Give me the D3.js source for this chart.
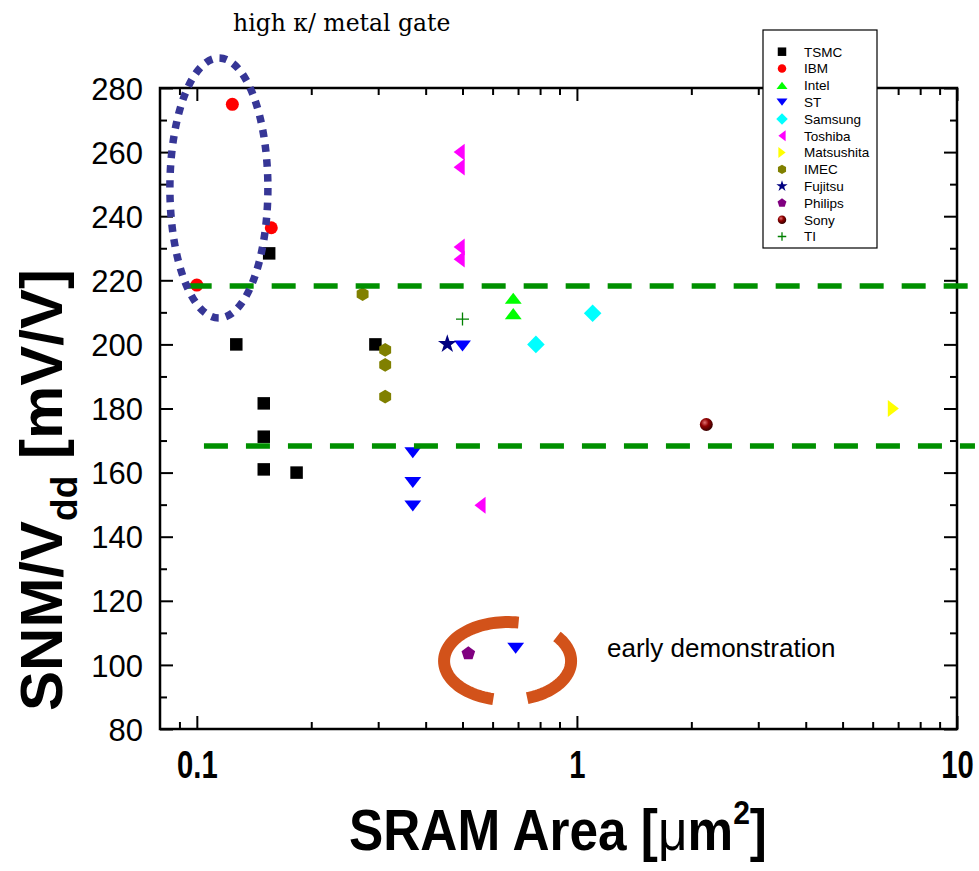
<!DOCTYPE html>
<html>
<head>
<meta charset="utf-8">
<script src="https://cdn.jsdelivr.net/npm/d3@7"></script>
<style>
  body { margin: 0; background: #fff; }
  svg { display: block; font-family: "Liberation Sans", Arial, sans-serif; }
</style>
</head>
<body>
<div id="chart"></div>
<script>
'use strict';

// SRAM cell area [um^2] vs SNM/Vdd [mV/V], one array per company: [area, snm]
const companies = ['TSMC', 'IBM', 'Intel', 'ST', 'Samsung', 'Toshiba', 'Matsushita', 'IMEC', 'Fujitsu', 'Philips', 'Sony', 'TI'];
const tsmc = [[0.155, 228.4], [0.127, 200], [0.15, 181.6], [0.15, 171.2], [0.15, 161], [0.183, 160], [0.295, 200]];
const ibm = [[0.124, 274.9], [0.157, 236.4], [0.1, 218.5]];
const intel = [[0.68, 214.4], [0.68, 209.6]];
const st = [[0.5, 199.5], [0.37, 166.2], [0.37, 156.9], [0.37, 149.6], [0.69, 105.2]];
const samsung = [[1.1, 209.7], [0.78, 200]];
const toshiba = [[0.49, 260], [0.49, 255.3], [0.49, 230.4], [0.49, 226.6], [0.556, 149.8]];
const matsushita = [[6.8, 180]];
const imec = [[0.273, 215.7], [0.313, 198.3], [0.313, 193.6], [0.313, 183.7]];
const fujitsu = [[0.456, 200.1]];
const philips = [[0.518, 103.6]];
const sony = [[2.19, 175]];
const ti = [[0.5, 207.9]];
const seriesValues = [tsmc, ibm, intel, st, samsung, toshiba, matsushita, imec, fujitsu, philips, sony, ti];

// reference levels (green dashed lines) and their drawn extent
const refLevels = [218.2, 168.3];
const refStarts = [0.0946, 0.1044];
const refEnd = 11.15;

const xMajorTicks = [0.1, 1, 10];
const xMinorTicks = [0.09, 0.2, 0.3, 0.4, 0.5, 0.6, 0.7, 0.8, 0.9, 2, 3, 4, 5, 6, 7, 8, 9];
const yMajorTicks = d3.range(80, 281, 20);
const yMinorTicks = d3.range(90, 280, 20);

const colors = ['#000000', '#ff0000', '#00ff00', '#0000ff', '#00ffff', '#ff00ff', '#ffff00', '#808000', '#000080', '#800080', '#800000', '#008000'];
const shapes = ['square', 'circle', 'up', 'down', 'diamond', 'left', 'right', 'hexagon', 'star', 'pentagon', 'sphere', 'plus'];

const width = 979, height = 871;
const xScale = d3.scaleLog().domain([0.08, 10]).range([160, 957]);
const yScale = d3.scaleLinear().domain([80, 280]).range([729, 88]);

const svg = d3.select('#chart').append('svg')
  .attr('width', width)
  .attr('height', height);

const defs = svg.append('defs');
const grad = defs.append('radialGradient').attr('id', 'sonyBall')
  .attr('cx', '0.38').attr('cy', '0.35').attr('r', '0.65');
grad.append('stop').attr('offset', '0').attr('stop-color', '#e07070');
grad.append('stop').attr('offset', '0.45').attr('stop-color', '#900000');
grad.append('stop').attr('offset', '1').attr('stop-color', '#3a0000');

function polygon(n, r, rot) {
  const pts = d3.range(n).map(i => {
    const a = rot + i * 2 * Math.PI / n;
    return [r * Math.cos(a), r * Math.sin(a)];
  });
  return 'M' + pts.join('L') + 'Z';
}

function shapePath(type, s) {
  // s = nominal marker width in px
  const h = s / 2;
  switch (type) {
    case 'square': return `M${-h},${-h}H${h}V${h}H${-h}Z`;
    case 'circle':
    case 'sphere': return d3.symbol(d3.symbolCircle, Math.PI * h * h)();
    case 'up': return `M0,${-h * 0.85}L${h * 1.3},${h * 0.85}L${-h * 1.3},${h * 0.85}Z`;
    case 'down': return `M0,${h * 0.85}L${h * 1.3},${-h * 0.85}L${-h * 1.3},${-h * 0.85}Z`;
    case 'left': return `M${-h * 0.85},0L${h * 0.85},${-h * 1.3}L${h * 0.85},${h * 1.3}Z`;
    case 'right': return `M${h * 0.85},0L${-h * 0.85},${-h * 1.3}L${-h * 0.85},${h * 1.3}Z`;
    case 'diamond': return `M0,${-h * 1.35}L${h * 1.35},0L0,${h * 1.35}L${-h * 1.35},0Z`;
    case 'hexagon': return polygon(6, h * 1.1, -Math.PI / 2);
    case 'pentagon': return polygon(5, h * 1.1, -Math.PI / 2);
    case 'star': return d3.symbol(d3.symbolStar, h * h * 2.2)();
    case 'plus': return `M${-h},0H${h}M0,${-h}V${h}`;
  }
}

function drawMarker(g, type, color, s) {
  const p = g.append('path').attr('d', shapePath(type, s));
  if (type === 'plus') {
    p.attr('fill', 'none').attr('stroke', color).attr('stroke-width', 1.3);
  } else if (type === 'sphere') {
    p.attr('fill', 'url(#sonyBall)');
  } else {
    p.attr('fill', color);
  }
  return p;
}

// axes frame and ticks
const axes = svg.append('g').attr('class', 'axes');

function tickGroup(axisFn, scale, values, size, tx, ty, label) {
  const ax = axisFn(scale).tickValues(values).tickSize(size).tickSizeOuter(0);
  ax.tickFormat(label ? label : () => '');
  const g = axes.append('g').attr('transform', `translate(${tx},${ty})`).call(ax);
  g.select('.domain').remove();
  g.selectAll('.tick line').attr('stroke', '#000').attr('stroke-width', 2);
  return g;
}

// bottom
const xb = tickGroup(d3.axisBottom, xScale, xMajorTicks, -13, 0, 729, d => d3.format('~g')(d));
xb.selectAll('.tick text')
  .attr('y', 0).attr('dy', 0)
  .attr('transform', 'translate(0,49) scale(0.86,1.12)')
  .attr('font-size', 34).attr('font-weight', 'bold')
  .attr('font-family', '"Liberation Sans", Arial, sans-serif')
  .attr('fill', '#000');
tickGroup(d3.axisBottom, xScale, xMinorTicks, -7, 0, 729);
// top
tickGroup(d3.axisTop, xScale, xMajorTicks, -13, 0, 88);
tickGroup(d3.axisTop, xScale, xMinorTicks, -7, 0, 88);
// left
const yl = tickGroup(d3.axisLeft, yScale, yMajorTicks, -13, 160, 0, d => d);
yl.selectAll('.tick text')
  .attr('x', -17).attr('dy', '0.36em')
  .attr('font-size', 31)
  .attr('font-family', '"Liberation Sans", Arial, sans-serif')
  .attr('fill', '#000');
tickGroup(d3.axisLeft, yScale, yMinorTicks, -7, 160, 0);
// right
tickGroup(d3.axisRight, yScale, yMajorTicks, -13, 957, 0);
tickGroup(d3.axisRight, yScale, yMinorTicks, -7, 957, 0);

axes.append('rect')
  .attr('x', xScale.range()[0]).attr('y', yScale.range()[1])
  .attr('width', xScale.range()[1] - xScale.range()[0])
  .attr('height', yScale.range()[0] - yScale.range()[1])
  .attr('fill', 'none').attr('stroke', '#000').attr('stroke-width', 2.5);

// data points
const sizes = { square: 12.5, circle: 13, up: 13, down: 13, left: 13, right: 13, diamond: 13, hexagon: 12.5, star: 14, pentagon: 13, sphere: 13, plus: 13 };
const points = svg.append('g').attr('class', 'points');
seriesValues.forEach((vals, i) => {
  vals.forEach(d => {
    const g = points.append('g')
      .attr('transform', `translate(${xScale(d[0])},${yScale(d[1])})`);
    drawMarker(g, shapes[i], colors[i], sizes[shapes[i]]);
  });
});

// green dashed reference lines
refLevels.forEach((lvl, i) => {
  svg.append('line')
    .attr('x1', xScale(refStarts[i])).attr('x2', xScale(refEnd))
    .attr('y1', yScale(lvl)).attr('y2', yScale(lvl))
    .attr('stroke', '#009000').attr('stroke-width', 5.5)
    .attr('stroke-dasharray', '24 18');
});

// high-k / metal gate ellipse (dotted)
const ellCx = xScale(0.1143), ellCy = yScale(248.8);
svg.append('ellipse')
  .attr('cx', ellCx).attr('cy', ellCy)
  .attr('rx', 49).attr('ry', 130)
  .attr('fill', 'none').attr('stroke', '#363696')
  .attr('stroke-width', 7.5).attr('stroke-dasharray', '7.5 7.3');

svg.append('text')
  .attr('x', 233).attr('y', 31)
  .attr('font-family', '"DejaVu Serif", serif')
  .attr('font-size', 23.5)
  .text('high \u03ba/ metal gate');

// early demonstration broken ellipse
const edCx = xScale(0.657), edCy = yScale(101.2), edRx = 63.5, edRy = 39;
const arcLine = d3.line();
function ellArc(a0, a1) {
  const pts = d3.range(0, 61).map(k => {
    const t = (a0 + (a1 - a0) * k / 60) * Math.PI / 180;
    return [edCx + edRx * Math.cos(t), edCy + edRy * Math.sin(t)];
  });
  return arcLine(pts);
}
[[103, 280], [-39, 72]].forEach(a => {
  svg.append('path').attr('d', ellArc(a[0], a[1]))
    .attr('fill', 'none').attr('stroke', '#d2521a')
    .attr('stroke-width', 12).attr('stroke-linecap', 'butt');
});
svg.append('text')
  .attr('x', 607).attr('y', 657)
  .attr('font-size', 26)
  .text('early demonstration');

// legend
const legend = svg.append('g').attr('class', 'legend');
legend.append('rect')
  .attr('x', 763).attr('y', 30).attr('width', 114).attr('height', 218)
  .attr('fill', '#fff').attr('stroke', '#000').attr('stroke-width', 1.2);
companies.forEach((name, i) => {
  const y = 51.7 + i * 16.8;
  const g = legend.append('g').attr('transform', `translate(782,${y})`);
  drawMarker(g, shapes[i], colors[i], shapes[i] === 'plus' ? 8.5 : 8.5);
  legend.append('text')
    .attr('x', 804).attr('y', y).attr('dy', '0.36em')
    .attr('font-size', 13.5)
    .text(name);
});

// axis titles
const yTitle = svg.append('text')
  .attr('transform', 'translate(62,490) rotate(-90)')
  .attr('text-anchor', 'middle')
  .attr('font-weight', 'bold')
  .attr('font-size', 60);
yTitle.append('tspan').text('SNM/V');
yTitle.append('tspan').attr('font-size', 37).attr('dy', 15).text('dd');
yTitle.append('tspan').attr('dy', -15).text(' [mV/V]');

const xTitle = svg.append('text')
  .attr('transform', 'translate(558,850) scale(0.885,1)')
  .attr('text-anchor', 'middle')
  .attr('font-weight', 'bold')
  .attr('font-size', 58);
xTitle.append('tspan').text('SRAM Area [');
xTitle.append('tspan').attr('font-weight', 'normal').text('\u03bc');
xTitle.append('tspan').text('m');
xTitle.append('tspan').attr('font-size', 34).attr('dy', -26).text('2');
xTitle.append('tspan').attr('dy', 26).text(']');
</script>
</body>
</html>
